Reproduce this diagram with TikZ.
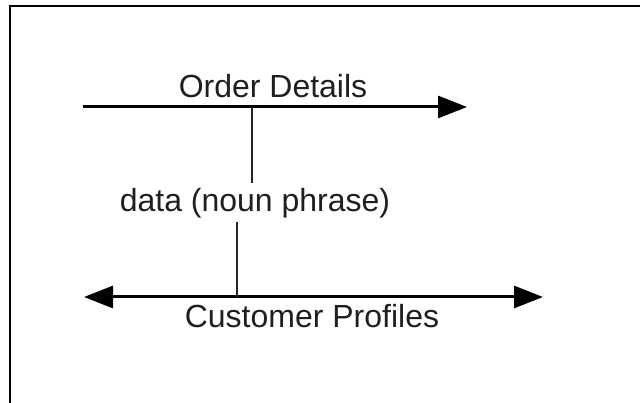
\documentclass[tikz,border=0pt]{standalone}
\usepackage{fontspec}
\setmainfont{Liberation Sans}
\usetikzlibrary{arrows.meta}
\begin{document}
\begin{tikzpicture}[x=1pt,y=-1pt,
  label text/.style={font=\fontsize{32}{38}\selectfont, text=black!88, inner sep=0pt},
  flow/.style={line width=3pt, -{Triangle[length=29pt,width=22pt]}},
  flow2/.style={line width=3pt, {Triangle[length=29pt,width=22pt]}-{Triangle[length=29pt,width=22pt]}},
  tie/.style={line width=1.8pt, draw=black!85}]
  \useasboundingbox (0,0) rectangle (640,403);
  % frame: only top and left edges are visible
  \draw[line width=2.2pt] (10,403) -- (10,6) -- (640,6);

  % top flow
  \coordinate (od-start) at (83,107);
  \coordinate (od-end) at (467,107);
  \draw[flow] (od-start) -- (od-end);
  \node[label text] (od) at (273,86) {Order Details};

  % bottom flow, both directions
  \coordinate (cp-start) at (84,297);
  \coordinate (cp-end) at (543,297);
  \draw[flow2] (cp-start) -- (cp-end);
  \node[label text] (cp) at (312,316) {Customer Profiles};

  % data label joined to both flows
  \node[label text] (data) at (255,203) {data (noun phrase)};
  \coordinate (od-tie) at (252,107);
  \coordinate (data-top) at (252,183);
  \coordinate (data-bot) at (237,222);
  \coordinate (cp-tie) at (237,297);
  \draw[tie] (od-tie) -- (data-top);
  \draw[tie] (data-bot) -- (cp-tie);
\end{tikzpicture}
\end{document}
